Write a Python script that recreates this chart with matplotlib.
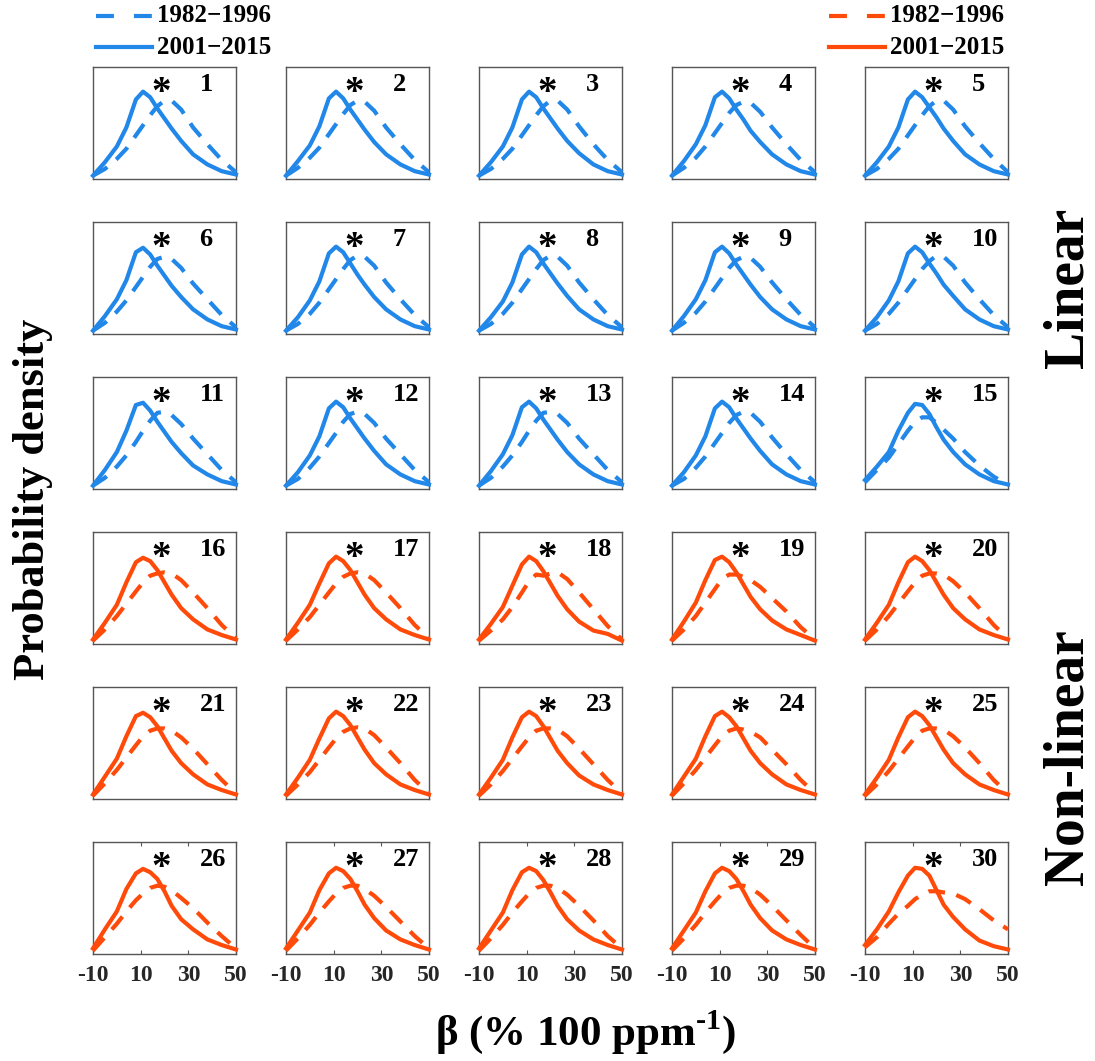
import matplotlib
matplotlib.use('Agg')
import matplotlib.pyplot as plt
from matplotlib.lines import Line2D
import numpy as np

plt.rcParams['font.family'] = ['Liberation Serif', 'DejaVu Serif']
plt.rcParams['font.weight'] = 'bold'
plt.rcParams['mathtext.fontset'] = 'custom'
plt.rcParams['mathtext.rm'] = 'Liberation Serif:bold'
plt.rcParams['mathtext.bf'] = 'Liberation Serif:bold'
plt.rcParams['axes.unicode_minus'] = False

# beta grid (% 100 ppm-1) and normalised probability density per panel
beta = [-10, -5, 0, 4, 8, 11, 14, 17, 20, 23, 27, 32, 38, 44, 50]

# panels 1-15 (linear), 2001-2015
lin_solid = [
    [0.03, 0.15, 0.29, 0.46, 0.71, 0.78, 0.73, 0.63, 0.54, 0.45, 0.34, 0.22, 0.13, 0.07, 0.04],
    [0.03, 0.16, 0.30, 0.47, 0.72, 0.78, 0.72, 0.62, 0.53, 0.44, 0.33, 0.22, 0.13, 0.07, 0.04],
    [0.03, 0.15, 0.29, 0.46, 0.71, 0.78, 0.73, 0.63, 0.54, 0.45, 0.34, 0.23, 0.13, 0.07, 0.04],
    [0.03, 0.16, 0.31, 0.48, 0.73, 0.78, 0.72, 0.62, 0.53, 0.43, 0.33, 0.22, 0.13, 0.07, 0.04],
    [0.03, 0.15, 0.29, 0.46, 0.71, 0.78, 0.73, 0.64, 0.55, 0.45, 0.34, 0.22, 0.13, 0.07, 0.04],
    [0.03, 0.16, 0.31, 0.48, 0.73, 0.77, 0.71, 0.61, 0.52, 0.43, 0.33, 0.22, 0.13, 0.07, 0.04],
    [0.03, 0.15, 0.30, 0.47, 0.72, 0.78, 0.73, 0.63, 0.53, 0.44, 0.33, 0.22, 0.13, 0.07, 0.04],
    [0.03, 0.15, 0.29, 0.46, 0.71, 0.78, 0.73, 0.63, 0.54, 0.45, 0.34, 0.22, 0.13, 0.07, 0.04],
    [0.03, 0.16, 0.31, 0.48, 0.73, 0.78, 0.72, 0.62, 0.53, 0.44, 0.33, 0.22, 0.13, 0.07, 0.04],
    [0.03, 0.15, 0.30, 0.47, 0.72, 0.78, 0.73, 0.63, 0.54, 0.44, 0.34, 0.22, 0.13, 0.07, 0.04],
    [0.03, 0.17, 0.33, 0.52, 0.75, 0.77, 0.70, 0.60, 0.51, 0.42, 0.32, 0.21, 0.13, 0.07, 0.04],
    [0.03, 0.15, 0.30, 0.47, 0.72, 0.78, 0.73, 0.63, 0.54, 0.45, 0.34, 0.22, 0.13, 0.07, 0.04],
    [0.03, 0.16, 0.31, 0.48, 0.73, 0.78, 0.72, 0.62, 0.53, 0.44, 0.33, 0.22, 0.13, 0.07, 0.04],
    [0.03, 0.15, 0.30, 0.47, 0.72, 0.78, 0.73, 0.63, 0.54, 0.45, 0.34, 0.22, 0.13, 0.07, 0.04],
    [0.08, 0.20, 0.33, 0.52, 0.68, 0.76, 0.75, 0.67, 0.55, 0.44, 0.33, 0.22, 0.13, 0.07, 0.04],
]
# panels 1-15 (linear), 1982-1996
lin_dash = [
    [0.03, 0.09, 0.18, 0.27, 0.39, 0.48, 0.57, 0.65, 0.70, 0.70, 0.62, 0.46, 0.31, 0.17, 0.06],
    [0.03, 0.10, 0.19, 0.28, 0.40, 0.49, 0.58, 0.66, 0.70, 0.69, 0.61, 0.46, 0.31, 0.17, 0.06],
    [0.03, 0.09, 0.18, 0.27, 0.39, 0.48, 0.57, 0.65, 0.70, 0.70, 0.62, 0.47, 0.31, 0.17, 0.06],
    [0.03, 0.10, 0.19, 0.29, 0.41, 0.50, 0.59, 0.66, 0.69, 0.68, 0.60, 0.46, 0.31, 0.17, 0.06],
    [0.03, 0.09, 0.18, 0.27, 0.39, 0.48, 0.57, 0.65, 0.70, 0.70, 0.62, 0.47, 0.32, 0.18, 0.06],
    [0.03, 0.10, 0.20, 0.30, 0.42, 0.51, 0.60, 0.67, 0.69, 0.67, 0.59, 0.45, 0.31, 0.17, 0.06],
    [0.03, 0.09, 0.18, 0.28, 0.40, 0.49, 0.58, 0.66, 0.70, 0.69, 0.61, 0.46, 0.31, 0.17, 0.06],
    [0.03, 0.09, 0.18, 0.28, 0.40, 0.49, 0.58, 0.66, 0.70, 0.69, 0.61, 0.46, 0.31, 0.17, 0.06],
    [0.03, 0.10, 0.19, 0.29, 0.41, 0.50, 0.59, 0.66, 0.69, 0.68, 0.60, 0.46, 0.31, 0.17, 0.06],
    [0.03, 0.09, 0.18, 0.28, 0.40, 0.49, 0.58, 0.65, 0.70, 0.69, 0.61, 0.46, 0.31, 0.17, 0.06],
    [0.03, 0.10, 0.20, 0.30, 0.42, 0.52, 0.61, 0.68, 0.69, 0.66, 0.58, 0.45, 0.31, 0.17, 0.06],
    [0.03, 0.09, 0.19, 0.29, 0.41, 0.50, 0.60, 0.67, 0.69, 0.67, 0.59, 0.45, 0.31, 0.17, 0.06],
    [0.03, 0.10, 0.20, 0.30, 0.42, 0.52, 0.61, 0.68, 0.69, 0.67, 0.59, 0.45, 0.31, 0.17, 0.06],
    [0.03, 0.09, 0.19, 0.29, 0.41, 0.50, 0.59, 0.66, 0.69, 0.68, 0.60, 0.46, 0.31, 0.17, 0.06],
    [0.06, 0.17, 0.28, 0.40, 0.52, 0.60, 0.64, 0.64, 0.59, 0.53, 0.45, 0.33, 0.21, 0.11, 0.04],
]
# panels 16-30 (non-linear), 2001-2015
nl_solid = [
    [0.04, 0.19, 0.35, 0.55, 0.73, 0.77, 0.74, 0.66, 0.55, 0.44, 0.32, 0.22, 0.13, 0.08, 0.04],
    [0.04, 0.19, 0.35, 0.54, 0.72, 0.78, 0.74, 0.66, 0.55, 0.44, 0.32, 0.22, 0.13, 0.08, 0.04],
    [0.04, 0.18, 0.33, 0.52, 0.71, 0.78, 0.74, 0.65, 0.54, 0.43, 0.31, 0.20, 0.12, 0.09, 0.03],
    [0.04, 0.20, 0.37, 0.57, 0.75, 0.78, 0.73, 0.64, 0.53, 0.42, 0.31, 0.21, 0.13, 0.08, 0.03],
    [0.04, 0.19, 0.35, 0.55, 0.73, 0.78, 0.74, 0.66, 0.55, 0.44, 0.32, 0.22, 0.13, 0.08, 0.04],
    [0.04, 0.20, 0.36, 0.56, 0.74, 0.77, 0.73, 0.65, 0.54, 0.43, 0.32, 0.22, 0.13, 0.08, 0.04],
    [0.04, 0.19, 0.35, 0.54, 0.72, 0.78, 0.74, 0.66, 0.55, 0.44, 0.32, 0.22, 0.13, 0.08, 0.04],
    [0.04, 0.19, 0.35, 0.55, 0.73, 0.78, 0.74, 0.65, 0.54, 0.43, 0.32, 0.21, 0.13, 0.08, 0.04],
    [0.04, 0.20, 0.36, 0.56, 0.74, 0.78, 0.73, 0.65, 0.54, 0.43, 0.32, 0.22, 0.13, 0.08, 0.04],
    [0.04, 0.19, 0.35, 0.55, 0.73, 0.78, 0.74, 0.66, 0.55, 0.44, 0.32, 0.22, 0.13, 0.08, 0.04],
    [0.05, 0.22, 0.38, 0.58, 0.72, 0.76, 0.73, 0.67, 0.56, 0.43, 0.31, 0.22, 0.13, 0.08, 0.04],
    [0.05, 0.21, 0.37, 0.57, 0.72, 0.77, 0.74, 0.67, 0.56, 0.44, 0.32, 0.21, 0.13, 0.08, 0.04],
    [0.05, 0.21, 0.37, 0.57, 0.73, 0.77, 0.74, 0.66, 0.55, 0.43, 0.31, 0.21, 0.13, 0.08, 0.04],
    [0.05, 0.21, 0.37, 0.56, 0.72, 0.77, 0.74, 0.67, 0.56, 0.44, 0.32, 0.21, 0.13, 0.08, 0.04],
    [0.08, 0.22, 0.38, 0.55, 0.70, 0.77, 0.76, 0.70, 0.57, 0.44, 0.33, 0.22, 0.12, 0.07, 0.04],
]
# panels 16-30 (non-linear), 1982-1996
nl_dash = [
    [0.03, 0.13, 0.25, 0.36, 0.47, 0.55, 0.61, 0.63, 0.64, 0.63, 0.57, 0.46, 0.32, 0.17, 0.05],
    [0.03, 0.13, 0.24, 0.35, 0.46, 0.54, 0.60, 0.63, 0.64, 0.63, 0.57, 0.46, 0.32, 0.17, 0.05],
    [0.03, 0.12, 0.22, 0.33, 0.46, 0.56, 0.62, 0.61, 0.63, 0.64, 0.58, 0.46, 0.31, 0.16, 0.04],
    [0.03, 0.13, 0.25, 0.37, 0.49, 0.58, 0.62, 0.62, 0.60, 0.57, 0.51, 0.41, 0.29, 0.15, 0.04],
    [0.03, 0.13, 0.25, 0.36, 0.47, 0.55, 0.61, 0.63, 0.63, 0.62, 0.56, 0.46, 0.32, 0.17, 0.05],
    [0.03, 0.14, 0.26, 0.37, 0.48, 0.56, 0.61, 0.63, 0.63, 0.61, 0.55, 0.45, 0.31, 0.17, 0.05],
    [0.03, 0.13, 0.24, 0.35, 0.46, 0.54, 0.60, 0.63, 0.64, 0.63, 0.57, 0.46, 0.32, 0.17, 0.05],
    [0.03, 0.13, 0.25, 0.36, 0.47, 0.55, 0.61, 0.63, 0.63, 0.62, 0.56, 0.45, 0.31, 0.17, 0.05],
    [0.03, 0.14, 0.26, 0.37, 0.48, 0.56, 0.61, 0.63, 0.62, 0.60, 0.55, 0.44, 0.31, 0.17, 0.05],
    [0.03, 0.13, 0.25, 0.36, 0.47, 0.55, 0.61, 0.63, 0.63, 0.62, 0.56, 0.46, 0.32, 0.17, 0.05],
    [0.03, 0.15, 0.27, 0.38, 0.48, 0.54, 0.59, 0.61, 0.60, 0.57, 0.50, 0.41, 0.28, 0.16, 0.05],
    [0.03, 0.14, 0.26, 0.37, 0.47, 0.54, 0.59, 0.61, 0.61, 0.58, 0.52, 0.42, 0.29, 0.16, 0.05],
    [0.03, 0.14, 0.26, 0.37, 0.47, 0.54, 0.59, 0.61, 0.61, 0.59, 0.53, 0.43, 0.30, 0.16, 0.05],
    [0.03, 0.14, 0.26, 0.37, 0.47, 0.54, 0.59, 0.61, 0.61, 0.59, 0.53, 0.43, 0.30, 0.17, 0.05],
    [0.06, 0.15, 0.27, 0.36, 0.43, 0.49, 0.53, 0.56, 0.56, 0.55, 0.54, 0.49, 0.40, 0.30, 0.22],
]

periods = ['1982\u22121996', '2001\u22122015']
xticks = [-10, 10, 30, 50]
blue = '#2187E8'
orange = '#FF4A0A'

W, H = 1095, 1061
fig = plt.figure(figsize=(W / 100, H / 100), dpi=100)

col_left = [93, 286, 479, 672, 865]
row_top = [67, 222, 377, 532, 687, 842]
aw, ah = 143, 112

for r in range(6):
    for c in range(5):
        k = r * 5 + c
        ax = fig.add_axes([col_left[c] / W, 1 - (row_top[r] + ah) / H, aw / W, ah / H])
        if r < 3:
            ys, yd, col = lin_solid[k], lin_dash[k], blue
        else:
            ys, yd, col = nl_solid[k - 15], nl_dash[k - 15], orange
        ax.plot(beta, yd, color=col, lw=3.0, dashes=(4.0, 2.8), zorder=3, clip_on=False,
                dash_joinstyle='round')
        ax.plot(beta, ys, color=col, lw=3.0, zorder=3, clip_on=False,
                solid_joinstyle='round')
        ax.set_xlim(-10, 50)
        ax.set_ylim(0, 1)
        ax.set_yticks([])
        for s in ax.spines.values():
            s.set_color('#555555')
            s.set_linewidth(1.0)
        if r == 5:
            ax.set_xticks(xticks)
            ax.set_xticklabels([str(t) for t in xticks], fontsize=17, fontweight='bold',
                               color='#262626')
            ax.tick_params(axis='x', direction='in', length=3, width=0.8, pad=8,
                           top=True, color='#555555')
        else:
            ax.set_xticks([])
        ax.text(0.48, 0.68, '*', transform=ax.transAxes, ha='center', va='baseline',
                fontsize=28, fontweight='bold')
        ax.text(0.745, 0.786, str(k + 1), transform=ax.transAxes, ha='left',
                va='baseline', fontsize=19, fontweight='bold')

# legends drawn by hand at the top corners
for x0, col in [(96, blue), (829, orange)]:
    fig.add_artist(Line2D([x0 / W, (x0 + 56) / W], [1 - 16 / H, 1 - 16 / H], color=col,
                          lw=3, dashes=(4.3, 4.8)))
    fig.add_artist(Line2D([x0 / W, (x0 + 56) / W], [1 - 47 / H, 1 - 47 / H], color=col,
                          lw=3))
    fig.text((x0 + 61) / W, 1 - 16 / H, periods[0], ha='left', va='center', fontsize=18,
             fontweight='bold')
    fig.text((x0 + 61) / W, 1 - 48 / H, periods[1], ha='left', va='center', fontsize=18,
             fontweight='bold')

fig.text(33 / W, 1 - 499 / H, 'Probability density', rotation=90, ha='center', va='center',
         fontsize=32, fontweight='bold')
fig.text(1068 / W, 1 - 288 / H, 'Linear', rotation=90, ha='center', va='center',
         fontsize=40, fontweight='bold')
fig.text(1068 / W, 1 - 757 / H, 'Non-linear', rotation=90, ha='center', va='center',
         fontsize=40, fontweight='bold')
fig.text(586 / W, 1 - 1032 / H, r'β (% 100 ppm$^{\text{-1}}$)', ha='center', va='center',
         fontsize=31, fontweight='bold')

fig.savefig('out.png', dpi=100)
